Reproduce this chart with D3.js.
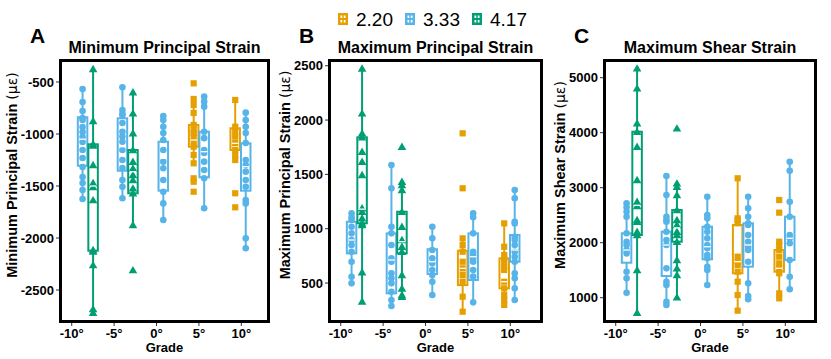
<!DOCTYPE html>
<html>
<head>
<meta charset="UTF-8">
<script src="https://d3js.org/d3.v7.min.js"></script>
<style>
  body { margin: 0; background: #fff; }
  svg { font-family: "Liberation Sans", Arial, sans-serif; }
</style>
</head>
<body>
<svg width="831" height="359"></svg>
<script>
// ---- data ----
const gradeTicks = [-10, -5, 0, 5, 10];
const gradeLabels = ["-10°", "-5°", "0°", "5°", "10°"];
const gradePos = [-8.1, -3.4, 0.8, 5.0, 9.9];   // where each grade's boxes are centred
const groups = ["2.20", "3.33", "4.17"];
const colors = ["#E69F00", "#56B4E9", "#009E73"];

// [grade index, group index, [low whisker, q1, median, q3, high whisker], points]
const minPrincipal = [
  [0, 1, [-1628, -1305, -1050, -839, -570], [-567, -692, -779, -846, -865, -933, -981, -1029, -1077, -1154, -1231, -1317, -1413, -1471, -1538, -1625]],
  [0, 2, [-2720, -2122, -1500, -1099, -375], [-375, -875, -1096, -1110, -1298, -1471, -1510, -1635, -2115, -2130, -2260, -2683, -2718]],
  [1, 1, [-1620, -1353, -1122, -849, -551], [-551, -769, -808, -817, -894, -978, -1025, -1074, -1154, -1250, -1327, -1442, -1507, -1618]],
  [1, 2, [-1875, -1570, -1362, -1154, -599], [-599, -801, -993, -1154, -1266, -1330, -1394, -1442, -1522, -1570, -1875, -2308]],
  [2, 1, [-1827, -1545, -1234, -1074, -827], [-827, -865, -930, -990, -1058, -1154, -1266, -1330, -1442, -1555, -1667, -1827]],
  [3, 0, [-1282, -1122, -1058, -913, -663], [-513, -663, -721, -798, -913, -962, -990, -1026, -1074, -1122, -1202, -1282, -1426, -1459, -1555]],
  [3, 1, [-1714, -1416, -1170, -978, -641], [-641, -689, -737, -978, -1040, -1154, -1183, -1266, -1346, -1426, -1714]],
  [4, 0, [-1250, -1154, -1090, -945, -673], [-673, -930, -978, -1026, -1087, -1154, -1202, -1250, -1570, -1705]],
  [4, 1, [-2099, -1545, -1314, -1090, -795], [-795, -865, -930, -990, -1087, -1250, -1298, -1362, -1442, -1507, -1635, -1667, -2003, -2099]]
];

const maxPrincipal = [
  [0, 1, [497, 773, 896, 1064, 1142], [1142, 1105, 1080, 1018, 957, 896, 850, 788, 696, 558, 497]],
  [0, 2, [330, 1050, 1180, 1841, 2476], [2476, 2062, 1878, 1841, 1709, 1617, 1494, 1188, 1156, 1096, 1050, 1034, 600, 330]],
  [1, 1, [289, 405, 712, 957, 1586], [1586, 1372, 1018, 957, 850, 727, 696, 589, 543, 497, 420, 344, 289]],
  [1, 2, [375, 773, 880, 1156, 1432], [1755, 1432, 1402, 1356, 1156, 1018, 896, 834, 788, 574, 451, 390, 375]],
  [2, 1, [390, 583, 696, 811, 1018], [1018, 911, 804, 727, 681, 620, 574, 512, 390]],
  [3, 0, [236, 481, 635, 797, 911], [1878, 1372, 911, 850, 788, 696, 635, 574, 512, 374, 236]],
  [3, 1, [322, 528, 742, 957, 1142], [1142, 1105, 957, 788, 758, 727, 696, 620, 560, 322]],
  [4, 0, [298, 451, 512, 727, 1049], [1049, 834, 758, 727, 696, 650, 620, 512, 451, 390, 344, 298]],
  [4, 1, [344, 696, 804, 942, 1356], [1356, 1280, 1064, 1049, 926, 896, 850, 788, 742, 696, 589, 543, 451, 344]]
];

const maxShear = [
  [0, 1, [1091, 1636, 1867, 2171, 2716], [2716, 2644, 2564, 2473, 2171, 2018, 1958, 1867, 1806, 1473, 1352, 1091]],
  [0, 2, [727, 2140, 2680, 4018, 5171], [5171, 4807, 4171, 4018, 3745, 3140, 2745, 2667, 2413, 2382, 2200, 2140, 1504, 727]],
  [1, 1, [867, 1395, 1958, 2200, 3213], [3213, 2867, 2473, 2413, 2382, 2200, 2049, 1958, 1534, 1291, 1231, 927, 867]],
  [1, 2, [1007, 2018, 2270, 2595, 3080], [4080, 3080, 3018, 2867, 2595, 2413, 2322, 2200, 2140, 2018, 1685, 1534, 1413, 1007]],
  [2, 1, [1231, 1698, 1927, 2291, 2836], [2836, 2504, 2443, 2291, 2200, 2080, 1958, 1897, 1776, 1716, 1564, 1504, 1231]],
  [3, 0, [764, 1444, 1655, 2322, 3171], [3171, 2443, 2413, 2353, 1746, 1655, 1595, 1473, 1291, 1049, 764]],
  [3, 1, [971, 1564, 1958, 2353, 2836], [2836, 2625, 2473, 2353, 2322, 2140, 2018, 1927, 1867, 1655, 1262, 1031, 971]],
  [4, 0, [988, 1473, 1534, 1867, 2018], [2776, 2546, 2018, 1958, 1867, 1746, 1625, 1534, 1444, 1079, 988]],
  [4, 1, [1153, 1685, 2080, 2473, 3473], [3473, 3309, 2745, 2473, 2140, 2080, 1989, 1685, 1382, 1153]]
];

const minTicks = [-2500, -2000, -1500, -1000, -500];
const maxTicks = [500, 1000, 1500, 2000, 2500];
const shearTicks = [1000, 2000, 3000, 4000, 5000];

// ---- layout ----
const svg = d3.select("svg");
const plotTop = 59, plotBottom = 323;
const panels = [
  { tag: "A", title: "Minimum Principal Strain", ylab: "Minimum Principal Strain ", left: 59, right: 270, yDomain: [-2817, -279], ticks: minTicks, data: minPrincipal },
  { tag: "B", title: "Maximum Principal Strain", ylab: "Maximum Principal Strain ", left: 328, right: 543, yDomain: [132, 2562], ticks: maxTicks, data: maxPrincipal },
  { tag: "C", title: "Maximum Shear Strain", ylab: "Maximum Shear Strain ", left: 603, right: 817, yDomain: [540, 5340], ticks: shearTicks, data: maxShear }
];
const boxW = 9.5, dodge = 0.62;

function drawPoint(g, shape, cx, cy, col) {
  if (shape === 0) {
    g.append("rect").attr("x", cx - 3.1).attr("y", cy - 3.1).attr("width", 6.2).attr("height", 6.2).attr("fill", col);
  } else if (shape === 1) {
    g.append("circle").attr("cx", cx).attr("cy", cy).attr("r", 3.3).attr("fill", col);
  } else {
    g.append("path").attr("d", d3.symbol(d3.symbolTriangle, 32)()).attr("transform", `translate(${cx},${cy + 0.8})`).attr("fill", col);
  }
}

panels.forEach(p => {
  const x = d3.scaleLinear().domain([-11.5, 13.5]).range([p.left, p.left + 212]);
  const y = d3.scaleLinear().domain(p.yDomain).range([plotBottom, plotTop]);
  const g = svg.append("g");

  // axes
  g.selectAll(".xt").data(gradeTicks).enter().append("line")
    .attr("x1", d => x(d)).attr("x2", d => x(d)).attr("y1", plotBottom).attr("y2", plotBottom + 3)
    .attr("stroke", "#333").attr("stroke-width", 1);
  g.selectAll(".xl").data(gradeTicks).enter().append("text")
    .attr("x", d => x(d)).attr("y", 338).attr("text-anchor", "middle")
    .attr("font-size", 13).attr("font-weight", "bold").attr("fill", "#000")
    .text((d, i) => gradeLabels[i]);
  g.selectAll(".yt").data(p.ticks).enter().append("line")
    .attr("x1", p.left - 3).attr("x2", p.left).attr("y1", d => y(d)).attr("y2", d => y(d))
    .attr("stroke", "#333").attr("stroke-width", 1);
  const yl = g.selectAll(".yl").data(p.ticks).enter().append("text")
    .attr("x", p.left - 5).attr("y", d => y(d)).attr("dy", "0.35em").attr("text-anchor", "end")
    .attr("font-size", 13).attr("font-weight", "bold").attr("fill", "#000")
    .text(d => d);
  let maxW = 0;
  yl.each(function () { maxW = Math.max(maxW, this.getBBox().width); });

  const yt = g.append("text")
    .attr("transform", `translate(${p.left - 5 - maxW - 4},175) rotate(-90)`)
    .attr("text-anchor", "middle").attr("font-size", 14.5).attr("font-weight", "bold");
  yt.append("tspan").text(p.ylab);
  yt.append("tspan").attr("font-weight", "normal").attr("font-family", "DejaVu Sans").attr("font-size", 14).text("(\u03bc\u03b5)");

  g.append("text").attr("x", (p.left + p.right) / 2).attr("y", 352).attr("text-anchor", "middle")
    .attr("font-size", 13).attr("font-weight", "bold").text("Grade");
  g.append("text").attr("x", (p.left + p.right) / 2).attr("y", 53).attr("text-anchor", "middle")
    .attr("font-size", 16).attr("font-weight", "bold").text(p.title);
  g.append("text").attr("x", p.left - 29).attr("y", 43)
    .attr("font-size", 21).attr("font-weight", "bold").text(p.tag);

  // boxes
  const perGrade = d3.rollup(p.data, v => v.map(d => d[1]), d => d[0]);
  const boxes = g.append("g");
  p.data.forEach(([gi, k, s, pts]) => {
    const members = perGrade.get(gi);
    const off = members.length > 1 ? (members.indexOf(k) === 0 ? -dodge : dodge) : 0;
    const cx = x(gradePos[gi] + off);
    const col = colors[k];
    const bg = boxes.append("g");
    bg.append("line").attr("x1", cx).attr("x2", cx).attr("y1", y(s[0])).attr("y2", y(s[4]))
      .attr("stroke", col).attr("stroke-width", 2);
    bg.append("rect").attr("x", cx - boxW / 2).attr("width", boxW)
      .attr("y", y(s[3])).attr("height", y(s[1]) - y(s[3]))
      .attr("fill", "#fff").attr("stroke", col).attr("stroke-width", 2);
    pts.forEach(v => drawPoint(bg, k, cx, y(v), col));
    bg.append("line").attr("x1", cx - boxW / 2 + 1.5).attr("x2", cx + boxW / 2 - 1.5)
      .attr("y1", y(s[2])).attr("y2", y(s[2])).attr("stroke", "#fff").attr("stroke-width", 1.3);
  });

  g.append("rect").attr("x", p.left + 1.5).attr("y", plotTop + 1.5)
    .attr("width", p.right - p.left - 3).attr("height", plotBottom - plotTop - 3)
    .attr("fill", "none").attr("stroke", "#000").attr("stroke-width", 3);
});

// legend
const leg = svg.append("g");
groups.forEach((name, i) => {
  const lx = 338 + i * 67;
  leg.append("rect").attr("x", lx).attr("y", 13).attr("width", 10).attr("height", 12).attr("fill", colors[i]);
  leg.append("rect").attr("x", lx + 2.5).attr("y", 15.5).attr("width", 5).attr("height", 2.5).attr("fill", "#fff");
  leg.append("rect").attr("x", lx + 2.5).attr("y", 20).attr("width", 5).attr("height", 2.5).attr("fill", "#fff");
  leg.append("line").attr("x1", lx + 5).attr("x2", lx + 5).attr("y1", 13).attr("y2", 25).attr("stroke", colors[i]).attr("stroke-width", 1.5);
  leg.append("text").attr("x", lx + 18).attr("y", 26).attr("font-size", 19).text(name);
});
</script>
</body>
</html>
